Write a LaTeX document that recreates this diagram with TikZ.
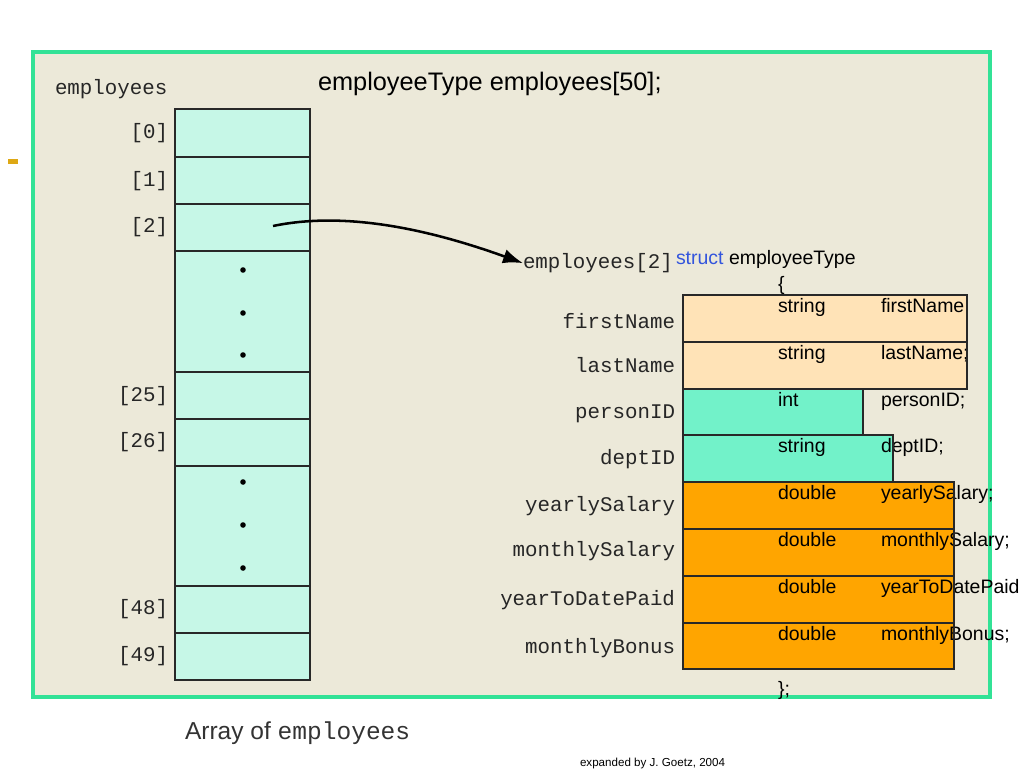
\documentclass[tikz,border=0pt]{standalone}
\usepackage{fontspec}
\setmainfont{Liberation Sans}
\newfontfamily\monofont{Liberation Mono}
\usetikzlibrary{arrows.meta}
\definecolor{framegreen}{RGB}{50,226,150}
\definecolor{panelbg}{RGB}{236,233,217}
\definecolor{cellmint}{RGB}{198,247,231}
\definecolor{peach}{RGB}{255,227,183}
\definecolor{turq}{RGB}{114,242,201}
\definecolor{orangebox}{RGB}{255,165,0}
\definecolor{structblue}{RGB}{51,85,221}
\definecolor{dashgold}{RGB}{222,168,20}
\definecolor{edge}{RGB}{40,40,40}
\newcommand{\bodyfont}{\fontsize{14.6}{16}\selectfont}
\newcommand{\titlefont}{\fontsize{19}{22}\selectfont}
\newcommand{\lblfont}{\monofont\fontsize{15.6}{17}\selectfont}
\begin{document}
\begin{tikzpicture}[x=0.75pt,y=-0.75pt,
  txt/.style={inner sep=0pt,outer sep=0pt,font=\bodyfont},
  lbl/.style={inner sep=0pt,outer sep=0pt,font=\lblfont,text=black!85},
  arrcell/.style={fill=cellmint,draw=edge,line width=1.1pt},
  rowedge/.style={draw=edge,line width=1.4pt},
  dotmark/.style={fill=black,draw=none}]
\useasboundingbox (0,0) rectangle (1024,768);
% panel
\draw[fill=panelbg,draw=framegreen,line width=2.4pt] (33,52) rectangle (990,697);
\fill[dashgold] (8,159) rectangle (18,164);
% title
\node[txt,font=\titlefont,anchor=base west] (title) at (318,90) {employeeType employees[50];};
\node[lbl,anchor=mid west] (arrname) at (55,91) {employees};
% array cells
\foreach \t/\b in {109/157,157/204,204/251,251/372,372/419,419/466,466/586,586/633,633/680}{
  \draw[arrcell] (175,\t) rectangle (310,\b);
}
\foreach \y in {270,313,355,482,525,568}{
  \fill[dotmark] (243,\y) circle (2.8);
}
\node[lbl,anchor=mid east] (i0) at (168,135) {[0]};
\node[lbl,anchor=mid east] (i1) at (168,183) {[1]};
\node[lbl,anchor=mid east] (i2) at (168,229) {[2]};
\node[lbl,anchor=mid east] (i25) at (168,398) {[25]};
\node[lbl,anchor=mid east] (i26) at (168,444) {[26]};
\node[lbl,anchor=mid east] (i48) at (168,611) {[48]};
\node[lbl,anchor=mid east] (i49) at (168,658) {[49]};
% struct header
\node[lbl,anchor=mid west] (e2) at (523,265) {employees[2]};
\node[txt,anchor=base west] (shead) at (676,264) {{\color{structblue}struct} employeeType};
\node[txt,anchor=base west] (lbrace) at (778,290) {\{};
% struct row fills
\fill[peach] (683,295) rectangle (967,342);
\fill[peach] (683,342) rectangle (967,389);
\fill[turq] (683,389) rectangle (863,435);
\fill[turq] (683,435) rectangle (893,482);
\foreach \t/\b in {482/529,529/576,576/623,623/669}{
  \fill[orangebox] (683,\t) rectangle (954,\b);
}
% struct row texts
\foreach \t/\ty/\nm in {295/string/firstName;,342/string/lastName;,389/int/personID;,435/string/deptID;,482/double/yearlySalary;,529/double/monthlySalary;,576/double/yearToDatePaid,623/double/monthlyBonus;}{
  \node[txt,anchor=base west] at (778,\t+17) {\ty};
  \node[txt,anchor=base west] at (881,\t+17) {\nm};
}
\node[txt,anchor=base west] (rbrace) at (778,695) {\};};
% struct row outlines
\draw[rowedge] (683,295) rectangle (967,342);
\draw[rowedge] (683,342) rectangle (967,389);
\draw[rowedge] (683,389) rectangle (863,435);
\draw[rowedge] (683,435) rectangle (893,482);
\foreach \t/\b in {482/529,529/576,576/623,623/669}{
  \draw[rowedge] (683,\t) rectangle (954,\b);
}
% field labels
\node[lbl,anchor=mid east] (fFirst) at (675,325) {firstName};
\node[lbl,anchor=mid east] (fLast) at (675,369) {lastName};
\node[lbl,anchor=mid east] (fPid) at (675,415) {personID};
\node[lbl,anchor=mid east] (fDept) at (675,461) {deptID};
\node[lbl,anchor=mid east] (fYS) at (675,508) {yearlySalary};
\node[lbl,anchor=mid east] (fMS) at (675,553) {monthlySalary};
\node[lbl,anchor=mid east] (fYTD) at (675,602) {yearToDatePaid};
\node[lbl,anchor=mid east] (fMB) at (675,650) {monthlyBonus};
% arrow
\coordinate (arrS) at (273,226);
\draw[line width=1.9pt,-{Latex[length=15pt,width=11pt]}] (arrS) .. controls (340,212) and (420,226) .. (e2.west);
% captions
\node[txt,anchor=base west,font=\fontsize{18.4}{20}\selectfont,text=black!80] (cap) at (185,739) {Array of {\monofont employees}};
\node[txt,anchor=base west,font=\fontsize{8.7}{10}\selectfont] (foot) at (580,766) {expanded by J. Goetz, 2004};
\end{tikzpicture}
\end{document}
